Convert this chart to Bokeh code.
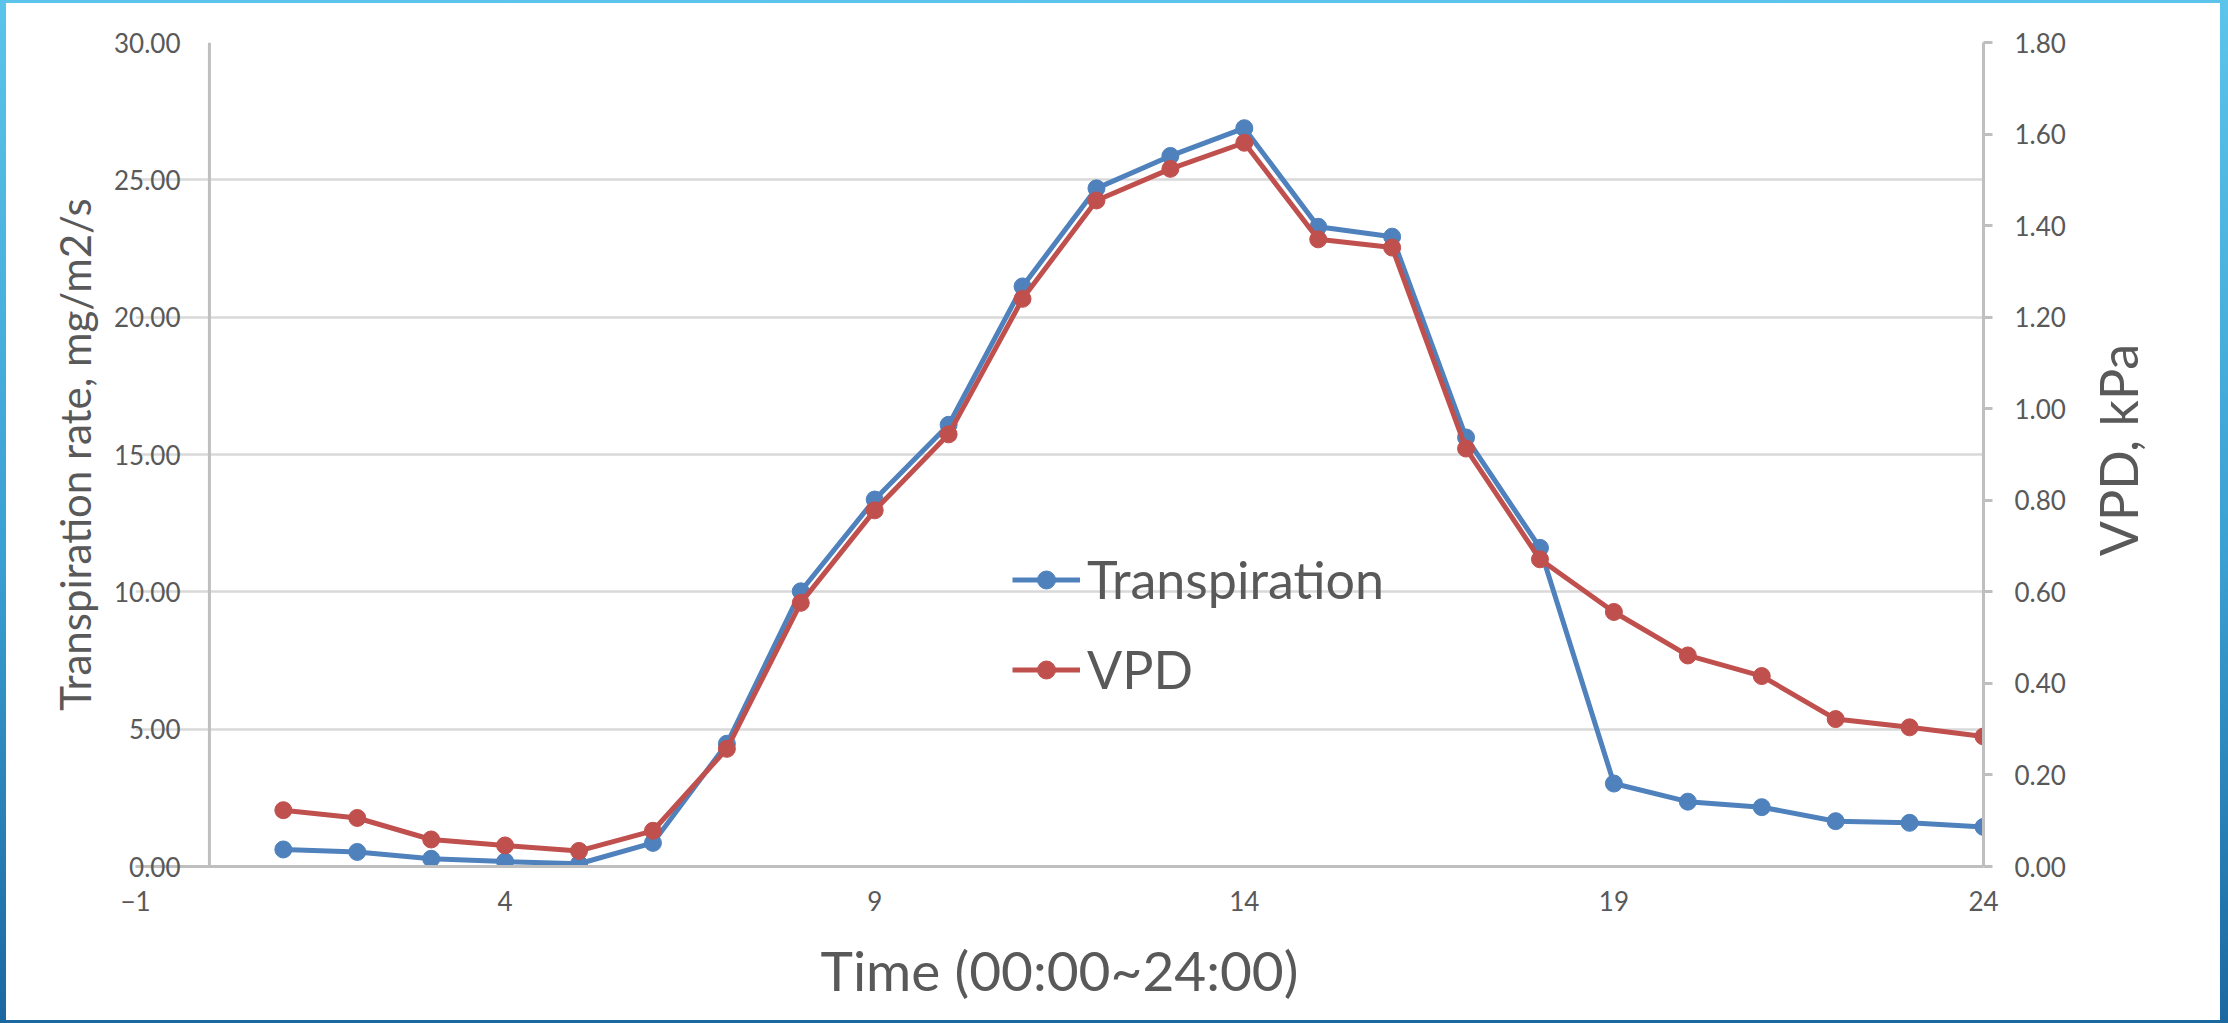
from math import pi

from bokeh.embed import file_html
from bokeh.layouts import column, row
from bokeh.models import (FixedTicker, Label, Legend, LegendItem, LinearAxis,
                          NumeralTickFormatter, Range1d, Span, Title)
from bokeh.plotting import figure
from bokeh.resources import INLINE

# Hourly measurements over one day
hours = list(range(1, 25))
transpiration = [0.62, 0.53, 0.28, 0.18, 0.10, 0.86, 4.47, 10.02, 13.36, 16.08,
                 21.12, 24.69, 25.87, 26.88, 23.29, 22.93, 15.62, 11.60, 3.02,
                 2.36, 2.16, 1.65, 1.59, 1.44]
vpd = [0.123, 0.106, 0.059, 0.046, 0.034, 0.078, 0.257, 0.576, 0.778, 0.944,
       1.240, 1.455, 1.524, 1.581, 1.370, 1.352, 0.913, 0.671, 0.556, 0.461,
       0.416, 0.322, 0.304, 0.284]

x_ticks = [-1, 4, 9, 14, 19, 24]
left_ticks = [0, 5, 10, 15, 20, 25, 30]
right_ticks = [0.0, 0.2, 0.4, 0.6, 0.8, 1.0, 1.2, 1.4, 1.6, 1.8]

FONT = "Lato"
TEXT = "#595959"
AXIS = "#bfbfbf"
GRID = "#d9d9d9"
BLUE = "#4f81bd"
RED = "#c0504d"

p = figure(
    frame_width=1848, frame_height=824,
    min_border_left=129, min_border_right=97,
    min_border_top=39, min_border_bottom=154,
    x_range=Range1d(-1, 24), y_range=Range1d(0, 30),
    output_backend="svg", toolbar_location=None,
    background_fill_color="white", border_fill_color="white",
)
p.outline_line_color = None
p.extra_y_ranges = {"vpd": Range1d(0, 1.8)}

# grid: horizontal lines only
p.xgrid.visible = False
p.ygrid.ticker = FixedTicker(ticks=left_ticks)
p.ygrid.grid_line_color = GRID
p.ygrid.grid_line_width = 2.5

# left axis: labels sit just left of the vertical line at x = 0
ya = p.yaxis[0]
ya.ticker = FixedTicker(ticks=left_ticks)
ya.formatter = NumeralTickFormatter(format="0.00")
ya.axis_line_color = None
ya.major_tick_line_color = None
ya.minor_tick_line_color = None
ya.major_tick_out = 0
ya.major_tick_in = 0
ya.major_label_standoff = -45
ya.major_label_text_font = FONT
ya.major_label_text_font_size = "26px"
ya.major_label_text_color = TEXT

p.add_layout(Span(location=0, dimension="height", line_color=AXIS, line_width=3))

# left axis title
p.add_layout(Title(text="Transpiration rate, mg/m2/s", align="center", offset=-5,
                   standoff=24, text_font=FONT, text_font_size="42px",
                   text_font_style="normal", text_color=TEXT), "left")

# bottom axis
xa = p.xaxis[0]
xa.ticker = FixedTicker(ticks=x_ticks)
xa.axis_line_color = AXIS
xa.axis_line_width = 3
xa.major_tick_line_color = None
xa.minor_tick_line_color = None
xa.major_tick_out = 0
xa.major_tick_in = 0
xa.major_label_standoff = 24
xa.major_label_text_font = FONT
xa.major_label_text_font_size = "26px"
xa.major_label_text_color = TEXT
xa.axis_label = "Time (00:00~24:00)"
xa.axis_label_standoff = 23
xa.axis_label_text_font = FONT
xa.axis_label_text_font_size = "55px"
xa.axis_label_text_font_style = "normal"
xa.axis_label_text_color = TEXT

# right axis for VPD
ra = LinearAxis(y_range_name="vpd", ticker=FixedTicker(ticks=right_ticks),
                formatter=NumeralTickFormatter(format="0.00"))
ra.axis_line_color = AXIS
ra.axis_line_width = 3
ra.major_tick_line_color = AXIS
ra.major_tick_line_width = 3
ra.major_tick_out = 9
ra.major_tick_in = 0
ra.minor_tick_line_color = None
ra.major_label_standoff = 22
ra.major_label_text_font = FONT
ra.major_label_text_font_size = "26px"
ra.major_label_text_color = TEXT
p.add_layout(ra, "right")

# series
bl = p.line(hours, transpiration, line_color=BLUE, line_width=5)
bs = p.scatter(hours, transpiration, size=17, fill_color=BLUE, line_color=BLUE)
rl = p.line(hours, vpd, line_color=RED, line_width=5, y_range_name="vpd")
rs = p.scatter(hours, vpd, size=17, fill_color=RED, line_color=RED, y_range_name="vpd")

legend = Legend(
    items=[LegendItem(label="Transpiration", renderers=[bl, bs]),
           LegendItem(label="VPD", renderers=[rl, rs])],
    location=(877, 166),
    glyph_width=68, glyph_height=45, label_height=45,
    label_standoff=7, spacing=28, padding=0, margin=0,
    label_text_font=FONT, label_text_font_size="52px", label_text_color=TEXT,
    background_fill_alpha=0, border_line_color=None,
)
p.add_layout(legend)

# narrow strip to the right carrying the VPD axis title, read bottom-to-top
side = figure(width=140, height=1017, x_range=Range1d(0, 140), y_range=Range1d(0, 1017),
              min_border=0, x_axis_location=None, y_axis_location=None,
              output_backend="svg", toolbar_location=None,
              background_fill_color="white", border_fill_color="white")
side.outline_line_color = None
side.grid.visible = False
side.add_layout(Label(x=37, y=514, text="VPD, kPa", angle=pi / 2,
                      text_align="center", text_baseline="middle", text_font=FONT,
                      text_font_size="52px", text_color=TEXT))

# white chart area framed by a thin blue gradient
chart = row(p, side, margin=(3, 8, 3, 6), styles={"background-color": "white"})
page = column(chart,
              styles={"background": "linear-gradient(180deg, #5cc4ea 0%, #3a9fd2 55%, #1b68a0 100%)"})

open("out.html", "w").write(file_html(page, INLINE))
